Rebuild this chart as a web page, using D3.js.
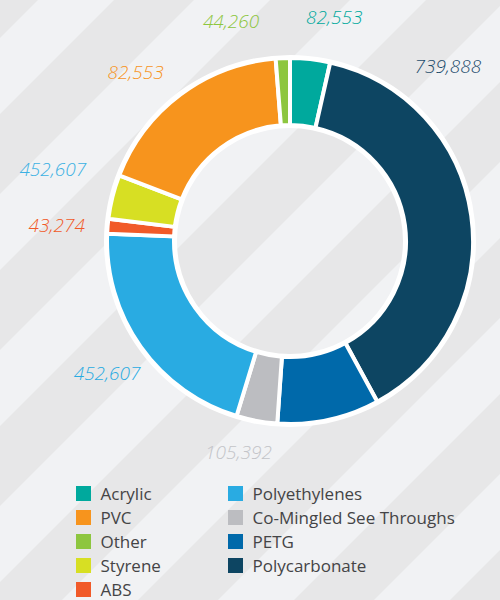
<!DOCTYPE html>
<html>
<head>
<meta charset="utf-8">
<script src="https://cdn.jsdelivr.net/npm/d3@7"></script>
<style>
  html, body { margin: 0; padding: 0; background: #f1f2f4; }
  svg { display: block; }
</style>
</head>
<body>
<div id="chart"></div>
<script>
// Slices in clockwise order, starting at 12 o'clock
const categories = ["Acrylic", "Polycarbonate", "PETG", "Co-Mingled See Throughs", "Polyethylenes", "ABS", "Styrene", "PVC", "Other"];
// Share of the ring (percent)
const shares = [3.53, 38.56, 9.03, 3.61, 20.92, 1.31, 3.89, 17.92, 1.25];
// Value labels printed next to the ring
const valueLabels = ["82,553", "739,888", "", "105,392", "452,607", "43,274", "452,607", "82,553", "44,260"];
// Legend columns
const legendCol1 = ["Acrylic", "PVC", "Other", "Styrene", "ABS"];
const legendCol2 = ["Polyethylenes", "Co-Mingled See Throughs", "PETG", "Polycarbonate"];

const config = {
  width: 500,
  height: 600,
  cx: 290,
  cy: 241,
  innerRadius: 116,
  outerRadius: 183,
  labelRadius: 228,
  stripe: { offset: 270, period: 156, width: 80 },
};

const colors = {
  "Acrylic": "#00a99d",
  "Polycarbonate": "#0d4562",
  "PETG": "#0069aa",
  "Co-Mingled See Throughs": "#bcbdc1",
  "Polyethylenes": "#29abe2",
  "ABS": "#f15a29",
  "Styrene": "#d7df23",
  "PVC": "#f7941d",
  "Other": "#8dc63f",
};

// label colour exceptions and hand nudges (label layout, px)
const labelColor = { "Styrene": "#3cb1e3", "Co-Mingled See Throughs": "#c3c4c8", "Polycarbonate": "#1f4e6d" };
const labelNudge = {
  "Acrylic": [19, 3],
  "Polycarbonate": [-68, -144],
  "Co-Mingled See Throughs": [-10, -13],
  "Polyethylenes": [3, 0],
  "ABS": [-6, 2],
  "Styrene": [-16, -17],
  "PVC": [-18, 14],
  "Other": [-50, 8],
};

const svg = d3
  .select("#chart")
  .append("svg")
  .attr("width", config.width)
  .attr("height", config.height);

// Background: light grey with darker diagonal stripes
svg.append("rect")
  .attr("width", config.width)
  .attr("height", config.height)
  .attr("fill", "#f1f2f4");

const st = config.stripe;
const stripeStarts = d3.range(-4, 9).map((k) => st.offset + k * st.period);
svg.append("g")
  .selectAll("polygon")
  .data(stripeStarts)
  .join("polygon")
  .attr("fill", "#e7e7e8")
  .attr("points", (s) => {
    const e = s + st.width;
    return [[s, 0], [e, 0], [e - config.height, config.height], [s - config.height, config.height]].join(" ");
  });

const g = svg.append("g").attr("transform", `translate(${config.cx},${config.cy})`);

// White ring under the slices
g.append("path")
  .attr("fill", "#ffffff")
  .attr("d", d3.arc().innerRadius(config.innerRadius - 3).outerRadius(config.outerRadius + 3)({ startAngle: 0, endAngle: 2 * Math.PI }));

const data = categories.map((c, i) => ({ name: c, value: shares[i], label: valueLabels[i] }));

const pie = d3.pie().sort(null).value((d) => d.value);
const arcs = pie(data);

const arc = d3.arc().innerRadius(config.innerRadius).outerRadius(config.outerRadius);

g.selectAll(".slice")
  .data(arcs)
  .join("path")
  .attr("class", "slice")
  .attr("d", arc)
  .attr("fill", (d) => colors[d.data.name])
  .attr("stroke", "#ffffff")
  .attr("stroke-width", 4)
  .attr("stroke-linejoin", "miter");

// Value labels
const labelArc = d3.arc().innerRadius(config.labelRadius).outerRadius(config.labelRadius);
g.selectAll(".val")
  .data(arcs.filter((d) => d.data.label !== ""))
  .join("text")
  .attr("class", "val")
  .attr("transform", (d) => {
    const [x, y] = labelArc.centroid(d);
    const n = labelNudge[d.data.name] || [0, 0];
    return `translate(${x + n[0]},${y + n[1]})`;
  })
  .attr("text-anchor", "middle")
  .attr("dominant-baseline", "central")
  .attr("font-family", "'Open Sans', 'DejaVu Sans', sans-serif")
  .attr("font-style", "italic")
  .attr("font-weight", 300)
  .attr("font-size", 19)
  .attr("fill", (d) => labelColor[d.data.name] || colors[d.data.name])
  .text((d) => d.data.label);

// Legend
const legendRow = d3.scaleLinear().domain([0, 1]).range([493.5, 517.5]);
const legendCols = [{ x: 76, items: legendCol1 }, { x: 228, items: legendCol2 }];

legendCols.forEach((col) => {
  const items = svg.append("g")
    .selectAll("g")
    .data(col.items)
    .join("g")
    .attr("transform", (d, i) => `translate(${col.x},${legendRow(i)})`);

  items.append("rect")
    .attr("x", 0)
    .attr("y", -7.5)
    .attr("width", 15)
    .attr("height", 15)
    .attr("fill", (d) => colors[d]);

  items.append("text")
    .attr("x", 24.5)
    .attr("y", 0)
    .attr("dominant-baseline", "central")
    .attr("font-family", "'Open Sans', sans-serif")
    .attr("font-size", 17)
    .attr("fill", "#444446")
    .text((d) => d);
});
</script>
</body>
</html>
